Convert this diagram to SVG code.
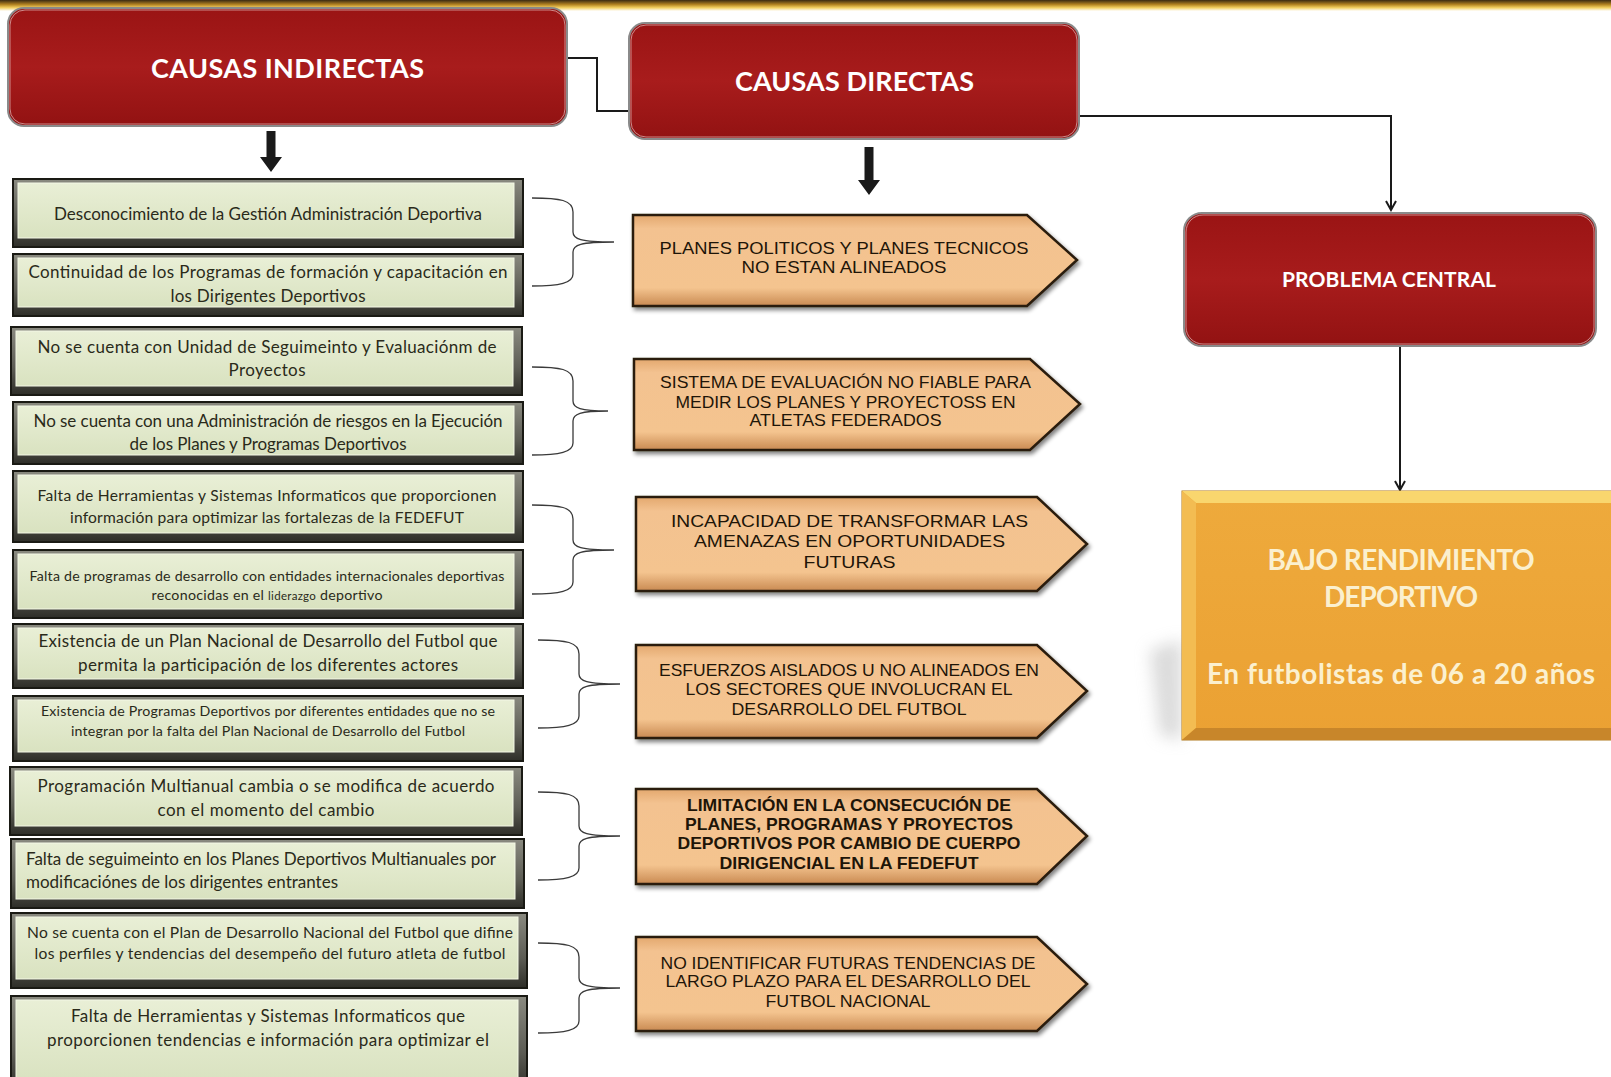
<svg xmlns="http://www.w3.org/2000/svg" width="1611" height="1077" viewBox="0 0 1611 1077">
<defs>
<style>
.hdr{font-family:Lato,"Open Sans","Liberation Sans",sans-serif;font-weight:bold;fill:#ffffff;text-anchor:middle}
.gt{font-family:Lato,"Open Sans","Liberation Sans",sans-serif;font-size:17px;fill:#2a2a1a;text-anchor:middle}
.gs{font-size:15.6px}
.gxs{font-size:14.2px}
.at{font-family:"Liberation Sans",Arial,sans-serif;font-size:17px;fill:#1e1508;text-anchor:middle}
.ab{font-weight:bold}
.bt{font-family:Lato,"Open Sans","Liberation Sans",sans-serif;font-weight:bold;font-size:28px;fill:#fbf0cf;text-anchor:middle}
.red{fill:url(#redg);stroke:#8a8a8a;stroke-width:2}
.redin{fill:none;stroke:#f0d8d8;stroke-width:1;opacity:0.6}
.gframe{fill:url(#frameg);stroke:#1a1a14;stroke-width:2}
.gface{fill:url(#greeng);stroke:#f4f8e6;stroke-width:1}
.arr{fill:url(#orgg);stroke:#2a1c0c;stroke-width:2.5;filter:url(#shd)}
.con{fill:none;stroke:#1a1a1a;stroke-width:2}
.brace{fill:none;stroke:#3a3a3a;stroke-width:1.3}
</style>
<linearGradient id="redg" x1="0" y1="0" x2="0" y2="1">
<stop offset="0" stop-color="#9a1414"/>
<stop offset="0.5" stop-color="#a81c1c"/>
<stop offset="1" stop-color="#921212"/>
</linearGradient>
<linearGradient id="frameg" x1="0" y1="0" x2="0" y2="1">
<stop offset="0" stop-color="#8a8a80"/>
<stop offset="0.6" stop-color="#5c5c54"/>
<stop offset="1" stop-color="#2e2e28"/>
</linearGradient>
<linearGradient id="greeng" x1="0" y1="0" x2="0" y2="1">
<stop offset="0" stop-color="#e9efd6"/>
<stop offset="1" stop-color="#d9e2c0"/>
</linearGradient>
<linearGradient id="orgg" x1="0" y1="0" x2="0" y2="1">
<stop offset="0" stop-color="#e3a86e"/>
<stop offset="0.15" stop-color="#f3c290"/>
<stop offset="0.8" stop-color="#f4c48f"/>
<stop offset="1" stop-color="#c98a52"/>
</linearGradient>
<linearGradient id="topband" x1="0" y1="0" x2="0" y2="1">
<stop offset="0" stop-color="#3a2a12"/>
<stop offset="0.4" stop-color="#b08020"/>
<stop offset="0.7" stop-color="#f2cf60"/>
<stop offset="1" stop-color="#ffffff"/>
</linearGradient>
<linearGradient id="bajog" x1="0" y1="0" x2="0" y2="1">
<stop offset="0" stop-color="#eeaa3c"/>
<stop offset="1" stop-color="#eba133"/>
</linearGradient>
<filter id="shd" x="-5%" y="-10%" width="115%" height="130%">
<feGaussianBlur in="SourceAlpha" stdDeviation="2"/>
<feOffset dx="2" dy="3" result="o"/>
<feComponentTransfer><feFuncA type="linear" slope="0.5"/></feComponentTransfer>
<feMerge><feMergeNode/><feMergeNode in="SourceGraphic"/></feMerge>
</filter>
<filter id="blur8" x="-50%" y="-50%" width="200%" height="200%">
<feGaussianBlur stdDeviation="8"/>
</filter>
<marker id="ah" markerWidth="12" markerHeight="12" refX="10" refY="6" orient="auto" markerUnits="userSpaceOnUse">
<path d="M1,1 L10,6 L1,11" fill="none" stroke="#1a1a1a" stroke-width="2"/>
</marker>
</defs>

<rect x="0" y="0" width="1611" height="1077" fill="#ffffff"/>
<rect x="0" y="0" width="1611" height="11" fill="url(#topband)"/>

<g id="connectors">
<path class="con" d="M567,58 H597 V111 H629"/>
<path class="con" d="M1079,116 H1391 V210" marker-end="url(#ah)"/>
<path class="con" d="M1400,346 V490" marker-end="url(#ah)"/>
<path d="M266.5,131 H275.5 V157 H282 L271,172 L260,157 H266.5 Z" fill="#1a1a1a"/>
<path d="M864.5,147 H873.5 V180 H880 L869,195 L858,180 H864.5 Z" fill="#1a1a1a"/>
<path class="brace" d="M532,198 C560,198 573,200 573,212 V232 C573,239 580,242 614,242 C580,242 573,245 573,252 V274 C573,283 560,286 532,286"/>
<path class="brace" d="M532,367 C560,367 573,369 573,381 V401 C573,408 580,411 608,411 C580,411 573,414 573,421 V443 C573,452 560,455 532,455"/>
<path class="brace" d="M532,505 C560,505 573,507 573,519 V540 C573,547 580,550 614,550 C580,550 573,553 573,560 V582 C573,591 560,594 532,594"/>
<path class="brace" d="M538,640 C566,640 579,642 579,654 V674 C579,681 586,684 620,684 C586,684 579,687 579,694 V716 C579,725 566,728 538,728"/>
<path class="brace" d="M538,792 C566,792 579,794 579,806 V826 C579,833 586,836 620,836 C586,836 579,839 579,846 V868 C579,877 566,880 538,880"/>
<path class="brace" d="M538,943 C566,943 579,945 579,957 V978 C579,985 586,988 620,988 C586,988 579,991 579,998 V1021 C579,1030 566,1033 538,1033"/>
</g>

<g id="causas-indirectas">
<rect class="red" x="8" y="8" width="559" height="118" rx="16"/>
<rect class="redin" x="10" y="10" width="555" height="114" rx="15"/>
<text class="hdr" x="287.5" y="78" font-size="27" textLength="273">CAUSAS  INDIRECTAS</text>
</g>

<g id="causas-directas">
<rect class="red" x="629" y="23" width="450" height="116" rx="16"/>
<rect class="redin" x="631" y="25" width="446" height="112" rx="15"/>
<text class="hdr" x="854.5" y="91" font-size="27" textLength="239">CAUSAS DIRECTAS</text>
</g>

<g id="problema-central">
<rect class="red" x="1184" y="213" width="412" height="133" rx="18"/>
<rect class="redin" x="1186" y="215" width="408" height="129" rx="17"/>
<text class="hdr" x="1389" y="287" font-size="21" textLength="214">PROBLEMA CENTRAL</text>
</g>

<g id="bajo-rendimiento">
<path d="M1150,650 L1182,640 L1182,740 L1160,735 Z" fill="#b8b8b8" opacity="0.5" filter="url(#blur8)"/>
<rect x="1182" y="491" width="440" height="249" fill="url(#bajog)" stroke="#b07a20" stroke-width="1"/>
<polygon points="1182,491 1622,491 1622,491 1611,503 1196,503" fill="#f9d66e"/>
<polygon points="1182,491 1196,503 1196,728 1182,740" fill="#f3bc52"/>
<polygon points="1182,740 1196,728 1611,728 1611,740" fill="#c8862a"/>
<text class="bt" x="1401" y="570" textLength="267">BAJO RENDIMIENTO</text>
<text class="bt" x="1401" y="607" textLength="154">DEPORTIVO</text>
<text class="bt" x="1401" y="684" textLength="388">En futbolistas de 06 a 20 años</text>
</g>

<g id="ci-1">
<rect class="gframe" x="13" y="179" width="510" height="68"/>
<rect class="gface" x="18" y="183" width="496" height="55"/>
<text class="gt" x="268" y="220" textLength="428">Desconocimiento de la Gestión  Administración Deportiva</text>
</g>
<g id="ci-2">
<rect class="gframe" x="13" y="254" width="510" height="62"/>
<rect class="gface" x="18" y="258" width="496" height="49"/>
<text class="gt" x="268" y="278" textLength="479">Continuidad de los Programas de formación y capacitación en</text>
<text class="gt" x="268" y="302" textLength="195">los Dirigentes Deportivos</text>
</g>
<g id="ci-3">
<rect class="gframe" x="11" y="327" width="511" height="68"/>
<rect class="gface" x="16" y="331" width="497" height="55"/>
<text class="gt" x="267" y="353" textLength="459">No se cuenta con Unidad de Seguimeinto y Evaluaciónm de</text>
<text class="gt" x="267" y="376" textLength="77">Proyectos</text>
</g>
<g id="ci-4">
<rect class="gframe" x="13" y="402" width="510" height="62"/>
<rect class="gface" x="18" y="406" width="496" height="49"/>
<text class="gt" x="268" y="427" textLength="469">No se cuenta con una Administración de riesgos en la Ejecución</text>
<text class="gt" x="268" y="450" textLength="277">de los Planes y Programas Deportivos</text>
</g>
<g id="ci-5">
<rect class="gframe" x="13" y="471" width="510" height="71"/>
<rect class="gface" x="18" y="475" width="496" height="58"/>
<text class="gt gs" x="267" y="501" textLength="459">Falta de Herramientas y Sistemas Informaticos que proporcionen</text>
<text class="gt gs" x="267" y="523" textLength="394">información para optimizar las fortalezas de la FEDEFUT</text>
</g>
<g id="ci-6">
<rect class="gframe" x="13" y="550" width="510" height="68"/>
<rect class="gface" x="18" y="554" width="496" height="55"/>
<text class="gt gxs" x="267" y="581" textLength="475">Falta de programas de desarrollo con entidades internacionales deportivas</text>
<text class="gt gxs" x="267" y="600" textLength="231">reconocidas en el <tspan font-size="11.5">liderazgo</tspan> deportivo</text>
</g>
<g id="ci-7">
<rect class="gframe" x="13" y="624" width="510" height="64"/>
<rect class="gface" x="18" y="628" width="496" height="51"/>
<text class="gt" x="268" y="647" textLength="459">Existencia de un Plan Nacional de Desarrollo del Futbol que</text>
<text class="gt" x="268" y="671" textLength="380">permita la participación de los diferentes actores</text>
</g>
<g id="ci-8">
<rect class="gframe" x="13" y="696" width="510" height="65"/>
<rect class="gface" x="18" y="700" width="496" height="52"/>
<text class="gt gxs" x="268" y="716" textLength="454">Existencia de Programas Deportivos por diferentes entidades que no se</text>
<text class="gt gxs" x="268" y="736" textLength="394">integran por la falta del Plan Nacional de Desarrollo del Futbol</text>
</g>
<g id="ci-9">
<rect class="gframe" x="10" y="767" width="512" height="68"/>
<rect class="gface" x="15" y="771" width="498" height="55"/>
<text class="gt" x="266" y="792" textLength="457">Programación Multianual cambia o se modifica de acuerdo</text>
<text class="gt" x="266" y="816" textLength="217">con el momento del cambio</text>
</g>
<g id="ci-10">
<rect class="gframe" x="11" y="839" width="513" height="69"/>
<rect class="gface" x="16" y="843" width="499" height="56"/>
<text class="gt" x="26" y="865" style="text-anchor:start" textLength="470">Falta de seguimeinto en los Planes Deportivos Multianuales por</text>
<text class="gt" x="26" y="888" style="text-anchor:start" textLength="312">modificaciónes de los dirigentes entrantes</text>
</g>
<g id="ci-11">
<rect class="gframe" x="11" y="913" width="516" height="75"/>
<rect class="gface" x="16" y="917" width="502" height="62"/>
<text class="gt gs" x="270" y="938" textLength="486">No se cuenta con el Plan de Desarrollo Nacional del Futbol que difine</text>
<text class="gt gs" x="270" y="959" textLength="471">los perfiles y tendencias del desempeño del futuro atleta de futbol</text>
</g>
<g id="ci-12">
<rect class="gframe" x="11" y="996" width="516" height="95"/>
<rect class="gface" x="16" y="1000" width="502" height="82"/>
<text class="gt" x="268" y="1022" textLength="394">Falta de Herramientas y Sistemas Informaticos que</text>
<text class="gt" x="268" y="1046" textLength="442">proporcionen tendencias e información para optimizar el</text>
</g>

<g id="cd-1">
<polygon class="arr" points="633,215 1027,215 1077,260 1027,306 633,306"/>
<text class="at" x="844" y="254" textLength="369" lengthAdjust="spacingAndGlyphs">PLANES POLITICOS Y PLANES TECNICOS</text>
<text class="at" x="844" y="273" textLength="205" lengthAdjust="spacingAndGlyphs">NO ESTAN ALINEADOS</text>
</g>
<g id="cd-2">
<polygon class="arr" points="634,359 1030,359 1080,404 1030,450 634,450"/>
<text class="at" x="845.5" y="388" textLength="371" lengthAdjust="spacingAndGlyphs">SISTEMA DE EVALUACIÓN NO FIABLE PARA</text>
<text class="at" x="845.5" y="408" textLength="340" lengthAdjust="spacingAndGlyphs">MEDIR LOS PLANES Y PROYECTOSS EN</text>
<text class="at" x="845.5" y="426" textLength="192" lengthAdjust="spacingAndGlyphs">ATLETAS FEDERADOS</text>
</g>
<g id="cd-3">
<polygon class="arr" points="636,497 1037,497 1087,544 1037,591 636,591"/>
<text class="at" x="849.5" y="527" textLength="357" lengthAdjust="spacingAndGlyphs">INCAPACIDAD DE TRANSFORMAR LAS</text>
<text class="at" x="849.5" y="547" textLength="311" lengthAdjust="spacingAndGlyphs">AMENAZAS EN OPORTUNIDADES</text>
<text class="at" x="849.5" y="568" textLength="92" lengthAdjust="spacingAndGlyphs">FUTURAS</text>
</g>
<g id="cd-4">
<polygon class="arr" points="636,645 1037,645 1087,691 1037,738 636,738"/>
<text class="at" x="849" y="676" textLength="380" lengthAdjust="spacingAndGlyphs">ESFUERZOS AISLADOS U NO ALINEADOS EN</text>
<text class="at" x="849" y="695" textLength="327" lengthAdjust="spacingAndGlyphs">LOS SECTORES QUE INVOLUCRAN EL</text>
<text class="at" x="849" y="715" textLength="235" lengthAdjust="spacingAndGlyphs">DESARROLLO DEL FUTBOL</text>
</g>
<g id="cd-5">
<polygon class="arr" points="636,789 1037,789 1087,836 1037,884 636,884"/>
<text class="at ab" x="849" y="811" textLength="324" lengthAdjust="spacingAndGlyphs">LIMITACIÓN EN LA CONSECUCIÓN DE</text>
<text class="at ab" x="849" y="830" textLength="328" lengthAdjust="spacingAndGlyphs">PLANES, PROGRAMAS Y PROYECTOS</text>
<text class="at ab" x="849" y="849" textLength="343" lengthAdjust="spacingAndGlyphs">DEPORTIVOS POR CAMBIO DE CUERPO</text>
<text class="at ab" x="849" y="869" textLength="259" lengthAdjust="spacingAndGlyphs">DIRIGENCIAL EN LA FEDEFUT</text>
</g>
<g id="cd-6">
<polygon class="arr" points="636,937 1037,937 1087,984 1037,1031 636,1031"/>
<text class="at" x="848" y="969" textLength="375" lengthAdjust="spacingAndGlyphs">NO IDENTIFICAR FUTURAS TENDENCIAS DE</text>
<text class="at" x="848" y="987" textLength="365" lengthAdjust="spacingAndGlyphs">LARGO PLAZO PARA EL DESARROLLO DEL</text>
<text class="at" x="848" y="1007" textLength="165" lengthAdjust="spacingAndGlyphs">FUTBOL NACIONAL</text>
</g>
</svg>
